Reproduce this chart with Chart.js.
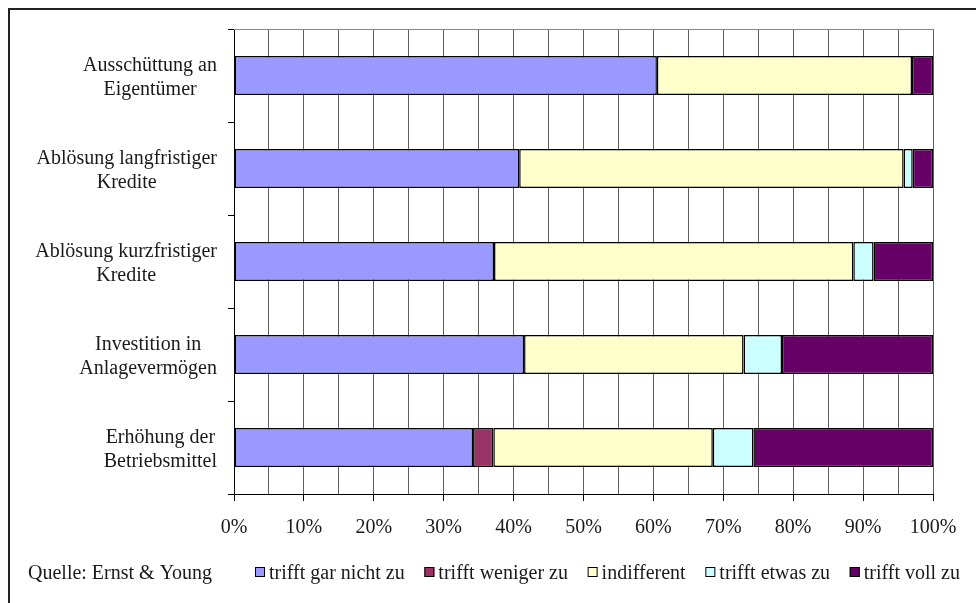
<!DOCTYPE html>
<html>
<head>
<meta charset="utf-8">
<script src="https://cdn.jsdelivr.net/npm/chart.js@4/dist/chart.umd.min.js"></script>
<style>
  html, body { margin: 0; padding: 0; background: #fff; }
  #wrap { width: 976px; height: 603px; }
</style>
</head>
<body>
<div id="wrap"><canvas id="c" width="976" height="603"></canvas></div>
<script>
// Verwendungszweck der Mittel – Antworten in Prozent
const categories = [
  ['Ausschüttung an', 'Eigentümer'],
  ['Ablösung langfristiger', 'Kredite'],
  ['Ablösung kurzfristiger', 'Kredite'],
  ['Investition in', 'Anlagevermögen'],
  ['Erhöhung der', 'Betriebsmittel']
];
const seriesNames = ['trifft gar nicht zu', 'trifft weniger zu', 'indifferent', 'trifft etwas zu', 'trifft voll zu'];
const garNicht  = [60.5, 40.8, 37.2, 41.5, 34.2];
const weniger   = [0,    0,    0,    0,    2.9];
const indiff    = [36.5, 55.0, 51.4, 31.4, 31.4];
const etwas     = [0,    1.3,  2.9,  5.5,  5.8];
const voll      = [3.0,  2.9,  8.5,  21.6, 25.7];
const seriesColors = ['#9999FF', '#993366', '#FFFFCC', '#CCFFFF', '#660066'];
const sourceText = 'Quelle: Ernst & Young';

const FONT = "'Liberation Serif', 'Times New Roman', serif";
const FSIZE = 20;
const TEXT = '#1a1a1a';

const values = [garNicht, weniger, indiff, etwas, voll];
const datasets = seriesNames.map((name, i) => ({
  label: name,
  data: values[i],
  backgroundColor: seriesColors[i],
  borderColor: '#000',
  borderWidth: 1.5,
  borderSkipped: false,
  barPercentage: 0.42,
  categoryPercentage: 1.0
}));

// frame, plot top edge, category labels, source note and legend
const decorations = {
  id: 'decorations',
  beforeDraw(chart) {
    const ctx = chart.ctx;
    ctx.save();
    ctx.fillStyle = '#fff';
    ctx.fillRect(0, 0, chart.width, chart.height);
    ctx.strokeStyle = '#222';
    ctx.lineWidth = 2;
    ctx.strokeRect(9, 9, chart.width + 20, chart.height + 20);
    ctx.restore();
  },
  beforeDatasetsDraw(chart) {
    const { ctx, chartArea: a } = chart;
    ctx.save();
    ctx.strokeStyle = '#8a8a8a';
    ctx.lineWidth = 1;
    ctx.beginPath();
    ctx.moveTo(a.left, a.top + 0.5);
    ctx.lineTo(a.right + 0.5, a.top + 0.5);
    ctx.stroke();
    ctx.restore();
  },
  afterDraw(chart) {
    const ctx = chart.ctx;
    ctx.save();
    ctx.font = FSIZE + 'px ' + FONT;
    ctx.fillStyle = TEXT;

    // category labels: each block right-aligned, its lines centred within it
    const ys = chart.scales.y;
    const lineGap = 24.5;
    ctx.textAlign = 'center';
    ctx.textBaseline = 'middle';
    chart.data.labels.forEach((lab, i) => {
      const lines = Array.isArray(lab) ? lab : [lab];
      const yc = ys.getPixelForTick(i) + 2;
      const w = Math.max(...lines.map(l => ctx.measureText(l).width));
      const cx = ys.right - 17 - w / 2;
      lines.forEach((l, k) => {
        ctx.fillText(l, cx, yc + (k - (lines.length - 1) / 2) * lineGap);
      });
    });

    // source note and legend row
    const y = 572;
    ctx.textAlign = 'left';
    ctx.fillText(sourceText, 28, y + 1.5);

    const startX = 255, endX = 960, box = 10, boxGap = 4;
    const ds = chart.data.datasets;
    const widths = ds.map(d => ctx.measureText(d.label).width);
    const used = widths.reduce((s, w) => s + w + box + boxGap, 0);
    const gap = (endX - startX - used) / (ds.length - 1);
    let x = startX;
    ds.forEach((d, i) => {
      ctx.fillStyle = d.backgroundColor;
      ctx.fillRect(x, y - box / 2, box, box);
      ctx.strokeStyle = '#000';
      ctx.lineWidth = 1;
      ctx.strokeRect(x + 0.5, y - box / 2 + 0.5, box - 1, box - 1);
      ctx.fillStyle = TEXT;
      ctx.fillText(d.label, x + box + boxGap, y + 1.5);
      x += box + boxGap + widths[i] + gap;
    });
    ctx.restore();
  }
};

new Chart(document.getElementById('c'), {
  type: 'bar',
  data: { labels: categories, datasets },
  options: {
    indexAxis: 'y',
    responsive: false,
    animation: false,
    devicePixelRatio: 1,
    layout: { padding: { left: 10, top: 29, right: 43, bottom: 59 } },
    plugins: { legend: { display: false }, tooltip: { enabled: false } },
    scales: {
      x: {
        stacked: true,
        min: 0,
        max: 100,
        afterFit(s) { s.height = 50; },
        ticks: {
          stepSize: 5,
          autoSkip: false,
          maxRotation: 0,
          padding: 15,
          color: TEXT,
          font: { family: FONT, size: FSIZE },
          callback: v => (v % 10 === 0 ? v + '%' : '')
        },
        grid: {
          color: '#5e5e5e',
          lineWidth: 1,
          tickLength: 7,
          tickColor: c => (c.tick && c.tick.value % 10 === 0 ? '#000' : 'rgba(0,0,0,0)')
        },
        border: { display: true, color: '#000', width: 1 }
      },
      y: {
        stacked: true,
        afterFit(s) { s.width = 224; },
        ticks: { display: false },
        grid: {
          offset: true,
          drawOnChartArea: false,
          tickLength: 6,
          color: '#000'
        },
        border: { display: true, color: '#000', width: 1 }
      }
    }
  },
  plugins: [decorations]
});
</script>
</body>
</html>
